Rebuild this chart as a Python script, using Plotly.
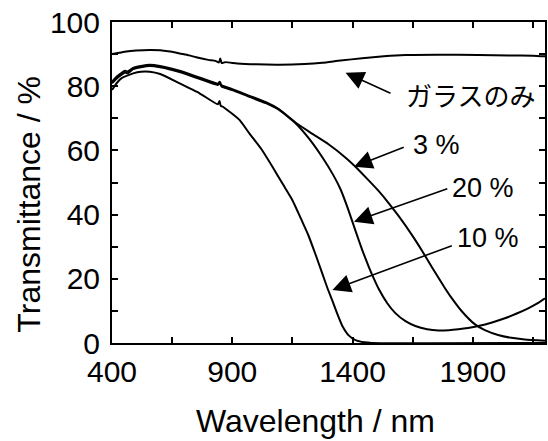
import plotly.graph_objects as go

# ---- data ----
glass_nm = [400, 430, 460, 500, 557, 600, 650, 681, 720, 750, 800, 830, 845, 850, 856, 870, 920, 1000,
            1095, 1200, 1274, 1350, 1440, 1530, 1619, 1750, 1923, 2050, 2150, 2200]
glass_T = [90.0, 90.4, 90.8, 91.1, 91.3, 91.2, 90.7, 90.2, 89.6, 89.0, 88.2, 87.9, 87.4, 88.6, 87.2, 87.5, 87.1, 86.8,
           86.7, 86.9, 87.3, 88.0, 88.7, 89.3, 89.7, 89.8, 89.7, 89.6, 89.5, 89.3]

p3_nm = [400, 420, 440, 455, 465, 488, 520, 557, 600, 681, 760, 840, 848, 855, 900, 971, 1040, 1095, 1164,
         1230, 1300, 1370, 1412, 1460, 1509, 1550, 1592, 1650, 1690, 1730, 1785, 1813, 1854, 1909, 1950,
         2005, 2060, 2116, 2200]
p3_T = [81.4, 83.0, 84.2, 84.8, 84.6, 85.7, 86.3, 86.7, 86.3, 84.8, 82.8, 80.8, 81.4, 80.3, 79.1, 77.0, 75.0, 72.8, 68.6,
        65.3, 61.9, 57.8, 54.9, 51.2, 47.3, 43.6, 39.5, 33.3, 28.6, 23.6, 17.0, 13.9, 9.9, 5.8, 4.0,
        2.5, 1.6, 1.1, 0.7]

p20_nm = [400, 420, 440, 455, 465, 488, 520, 557, 600, 681, 760, 840, 848, 855, 900, 971, 1040, 1095, 1164,
          1220, 1275, 1320, 1350, 1380, 1412, 1440, 1467, 1490, 1509, 1545, 1578, 1620, 1661, 1710, 1757, 1800,
          1840, 1880, 1923, 1980, 2033, 2080, 2130, 2170, 2200]
p20_T = [80.9, 82.4, 83.6, 84.3, 84.0, 85.3, 85.9, 86.3, 85.9, 84.4, 82.4, 80.4, 81.0, 79.9, 78.8, 76.7, 74.7, 72.6, 68.4,
         63.6, 57.8, 52.3, 47.9, 42.0, 35.0, 29.0, 23.8, 19.8, 16.8, 12.3, 9.3, 6.8, 5.3, 4.3, 3.9, 4.0,
         4.3, 4.7, 5.3, 6.4, 7.7, 9.1, 10.8, 12.4, 13.9]

p10_nm = [400, 420, 440, 460, 488, 520, 557, 600, 681, 764, 840, 847, 852, 861, 930, 971, 1020, 1067, 1110,
          1150, 1185, 1215, 1245, 1274, 1295, 1316, 1337, 1357, 1385, 1412, 1450, 1480, 2200]
p10_T = [78.8, 81.0, 82.5, 83.2, 84.0, 84.5, 84.5, 83.8, 80.9, 77.8, 74.4, 75.4, 73.9, 73.6, 69.5, 65.3, 60.5, 54.9, 49.5,
         44.5, 38.8, 33.8, 27.8, 21.7, 17.2, 13.2, 9.0, 5.4, 2.3, 0.9, 0.2, 0.0, 0.0]

x_ticks = [400, 900, 1400, 1900]
y_ticks = [0, 20, 40, 60, 80, 100]

# labels: (text, text_x, text_y, arrow_head_x, arrow_head_y, arrow_tail_x, arrow_tail_y)
labels = [
    ("ガラスのみ", 1612, 77.3, 1371, 84.2, 1564, 77.6),
    ("3 %", 1645, 61.7, 1406, 54.9, 1619, 61.2),
    ("20 %", 1806, 48.3, 1406, 37.8, 1800, 48.2),
    ("10 %", 1826, 32.7, 1316, 16.5, 1819, 30.5),
]

FONT = "Liberation Sans, Arial, sans-serif"
JP_FONT = "Noto Sans CJK JP"

fig = go.Figure()
for xs, ys in [(glass_nm, glass_T), (p3_nm, p3_T), (p20_nm, p20_T), (p10_nm, p10_T)]:
    fig.add_trace(go.Scatter(x=xs, y=ys, mode="lines", line=dict(color="black", width=2, shape="spline", smoothing=0.5),
                             showlegend=False, hoverinfo="skip"))

annotations = []
for text, tx, ty, hx, hy, ax, ay in labels:
    annotations.append(dict(x=hx, y=hy, ax=ax, ay=ay, xref="x", yref="y", axref="x", ayref="y",
                            text="", showarrow=True, arrowhead=2, arrowsize=2.3, arrowwidth=1.6,
                            arrowcolor="black", standoff=0, startstandoff=0))
    annotations.append(dict(x=tx, y=ty, xref="x", yref="y", text=text, showarrow=False,
                            xanchor="left", yanchor="middle",
                            font=dict(size=26 if text == "ガラスのみ" else 27,
                                      family=JP_FONT if text == "ガラスのみ" else FONT, color="black")))

annotations.append(dict(x=0.469, y=-0.243, xref="paper", yref="paper", text="Wavelength / nm",
                        showarrow=False, xanchor="center", yanchor="middle",
                        font=dict(size=32, family=FONT, color="black")))
annotations.append(dict(x=-0.191, y=0.432, xref="paper", yref="paper", text="Transmittance / %",
                        showarrow=False, xanchor="center", yanchor="middle", textangle=-90,
                        font=dict(size=32, family=FONT, color="black")))

axis_common = dict(showline=True, linecolor="black", linewidth=2, mirror="allticks", ticks="inside",
                   ticklen=6, tickwidth=1.5, tickcolor="black", showgrid=False, zeroline=False,
                   tickfont=dict(size=30, family=FONT, color="black"))

fig.update_layout(
    width=548, height=441,
    margin=dict(l=112, r=1, t=22, b=98),
    paper_bgcolor="white", plot_bgcolor="white",
    xaxis=dict(range=[400, 2200], tickmode="array", tickvals=x_ticks, ticktext=[str(v) for v in x_ticks],
               minor=dict(dtick=250, tick0=400, ticks="inside", ticklen=6, tickwidth=1.5, tickcolor="black"),
               ticklabelstandoff=1, **axis_common),
    yaxis=dict(range=[0, 100], tickmode="array", tickvals=y_ticks, ticktext=[str(v) for v in y_ticks],
               minor=dict(dtick=10, tick0=0, ticks="inside", ticklen=6, tickwidth=1.5, tickcolor="black"),
               ticklabelstandoff=4, **axis_common),
    annotations=annotations,
)

fig.write_html("out.html")
